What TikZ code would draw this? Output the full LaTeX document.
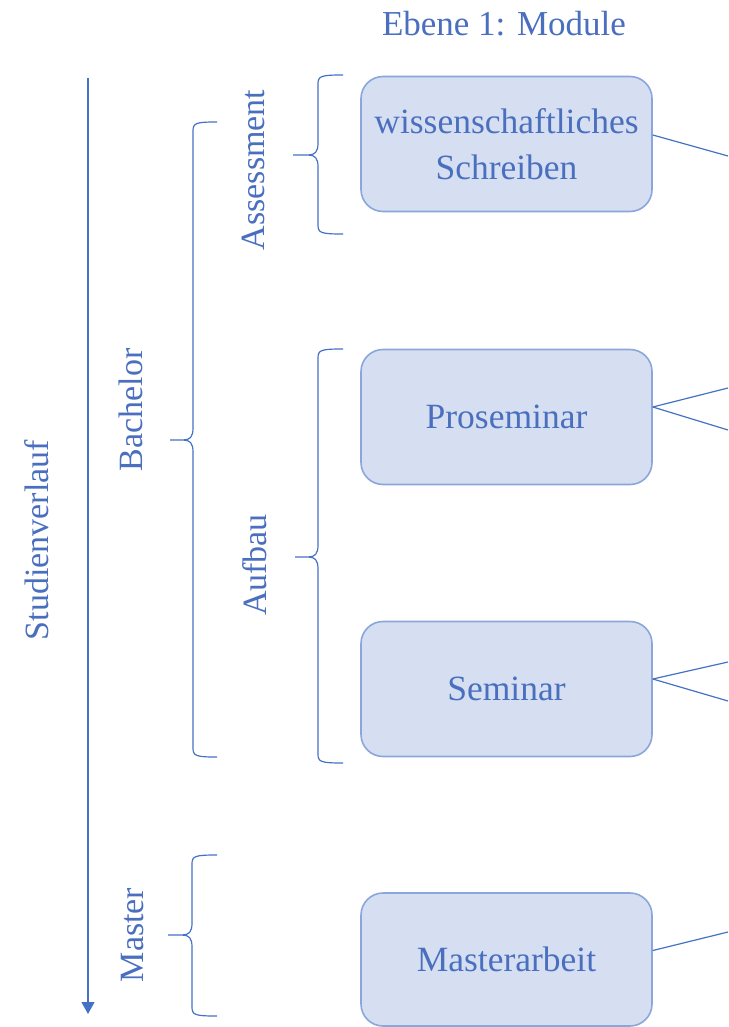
\documentclass[tikz,border=0pt]{standalone}
\usepackage{fontspec}
\setmainfont{Liberation Serif}
\usetikzlibrary{arrows.meta}
\definecolor{txt}{HTML}{4A6FBF}
\definecolor{ln}{HTML}{4472C4}
\definecolor{bfill}{HTML}{D5DFF1}
\definecolor{bdraw}{HTML}{8AA6DA}
\newcommand\mybrace[6]{%
  \draw[bracepath] (#1,#4) .. controls (#2+3,#4) and (#2,#4+1) .. (#2,#4+9)
    -- (#2,#5-12) .. controls (#2,#5-3) and (#2-3,#5) .. (#2-10,#5) -- (#3,#5)
    -- (#2-10,#5) .. controls (#2-3,#5) and (#2,#5+3) .. (#2,#5+12)
    -- (#2,#6-9) .. controls (#2,#6-1) and (#2+3,#6) .. (#1,#6);}
\begin{document}
\begin{tikzpicture}[x=1pt,y=-1pt,
  modbox/.style={draw=bdraw, fill=bfill, line width=1.6pt, rounded corners=22pt,
    minimum width=291pt, minimum height=135pt, align=center, text=txt,
    font=\fontsize{35.5}{46}\selectfont, inner sep=0pt},
  lbl/.style={text=txt, font=\fontsize{34}{40}\selectfont, rotate=90, inner sep=0pt},
  conn/.style={draw=ln, line width=1.2pt},
  bracepath/.style={draw=ln, line width=1.2pt}]
\useasboundingbox (0,0) rectangle (728,1027);
\fill[white] (0,0) rectangle (728,1027);

\node[text=txt, font=\fontsize{35}{40}\selectfont] (title) at (504,24) {Ebene 1: Module};

\node[modbox] (b1) at (506.5,144) {wissenschaftliches\\Schreiben};
\node[modbox] (b2) at (506.5,417) {Proseminar};
\node[modbox] (b3) at (506.5,689) {Seminar};
\node[modbox, minimum height=133pt] (b4) at (506.5,959.5) {Masterarbeit};

\coordinate (e1) at (728,156);
\coordinate (e2a) at (728,388);
\coordinate (e2b) at (728,430);
\coordinate (e3a) at (728,662);
\coordinate (e3b) at (728,701);
\coordinate (e4) at (728,932);
\draw[conn] ([yshift=9pt]b1.east) -- (e1);
\draw[conn] ([yshift=10pt]b2.east) -- (e2a);
\draw[conn] ([yshift=10pt]b2.east) -- (e2b);
\draw[conn] ([yshift=10pt]b3.east) -- (e3a);
\draw[conn] ([yshift=10pt]b3.east) -- (e3b);
\draw[conn] ([yshift=9pt]b4.east) -- (e4);

\coordinate (atop) at (88,78);
\coordinate (abot) at (88,1014);
\draw[conn, -{Triangle[width=13pt,length=12pt]}] (atop) -- (abot);

\node[lbl] (studien) at (37,540) {Studienverlauf};
\node[lbl] (bachelor) at (131,410) {Bachelor};
\node[lbl] (master) at (133,935) {Master};
\node[lbl] (assess) at (253,170) {Assessment};
\node[lbl] (aufbau) at (255,565) {Aufbau};

\mybrace{217}{193}{170}{122}{440}{757}
\mybrace{343}{318}{293}{75}{155}{234}
\mybrace{343}{318}{295}{349}{557}{763}
\mybrace{217}{192}{168}{855}{935}{1016}
\end{tikzpicture}
\end{document}
